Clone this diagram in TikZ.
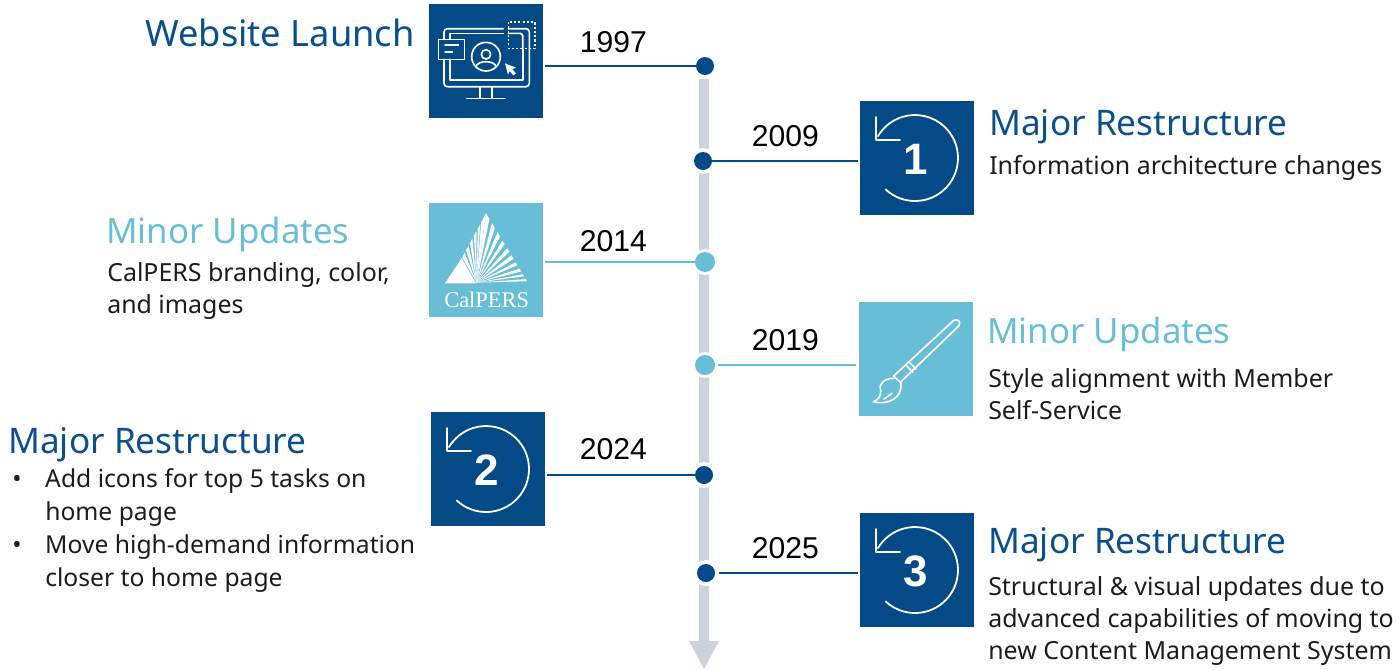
\documentclass[tikz,border=0pt]{standalone}
\usepackage{fontspec}
\setmainfont{Noto Sans}
\newfontfamily\yearfont{Liberation Sans}
\newfontfamily\logofont{Liberation Serif}
\usetikzlibrary{calc}
\definecolor{navy}{HTML}{034A87}
\definecolor{sky}{HTML}{69BED7}
\definecolor{axisgrey}{HTML}{CBD2DC}
\definecolor{titlenavy}{HTML}{0B4F8C}
\definecolor{bodyink}{HTML}{1C1C1C}
\newcommand{\historyglyph}[2]{%
  \begin{scope}[shift={(#1)}]
    \draw[iconline] (-2,0) ++(227:43) arc[start angle=227,end angle=509.4,radius=43];
    \draw[iconline] (-41,41) -- (-41,18) -- (-17,18);
    \node[digit] at (-1,-1) {#2};
  \end{scope}}
\tikzset{
  x=0.75pt,y=0.75pt,
  iconbox/.style={minimum width=85.5pt,minimum height=85.5pt,inner sep=0pt,draw=none},
  navybox/.style={iconbox,fill=navy},
  skybox/.style={iconbox,fill=sky},
  iconline/.style={draw=white,line width=1.35pt,line cap=round,line join=round},
  thinline/.style={iconline,line width=1.25pt},
  digit/.style={text=white,font=\yearfont\bfseries\fontsize{33}{33}\selectfont,inner sep=0pt},
  year/.style={anchor=base west,inner sep=0pt,text=black,font=\yearfont\fontsize{22.6}{27}\selectfont},
  headnavy/.style={anchor=base west,inner sep=0pt,text=titlenavy,font=\fontsize{26.4}{30}\selectfont},
  headsky/.style={anchor=base west,inner sep=0pt,text=sky,font=\fontsize{26.1}{30}\selectfont},
  bodytext/.style={anchor=north west,inner sep=0pt,align=left,text=bodyink,font=\fontsize{18.7}{24.2}\selectfont},
  stem/.style={line width=1.8pt},
  halo/.style={circle,fill=white,inner sep=0pt,minimum size=19.5pt},
  navydot/.style={circle,fill=navy,inner sep=0pt,minimum size=13.5pt},
  skydot/.style={circle,fill=sky,inner sep=0pt,minimum size=15pt},
}
\begin{document}
\begin{tikzpicture}
\useasboundingbox (0,0) rectangle (1400,-669);
% axis
\coordinate (axistop) at (704,-79);
\coordinate (axisneck) at (704,-641);
\coordinate (axistip) at (704,-669);
\fill[axisgrey] ($(axistop)+(-5,0)$) -- ($(axistop)+(5,0)$) -- ($(axisneck)+(5,0)$) -- ($(axisneck)+(15,0)$) -- (axistip) -- ($(axisneck)+(-15,0)$) -- ($(axisneck)+(-5,0)$) -- cycle;
% icon boxes
\node[navybox] (i1997) at (486,-61) {};
\node[navybox] (i2009) at (917,-158) {};
\node[skybox]  (i2014) at (486,-260) {};
\node[skybox]  (i2019) at (916,-359) {};
\node[navybox] (i2024) at (488,-469) {};
\node[navybox] (i2025) at (917,-570) {};
% dots with halos
\foreach \n/\x/\y in {h1997/705/66,h2009/703/161,h2014/705/262,h2019/705/365,h2024/704/475,h2025/706/573}
  \node[halo] (\n) at (\x,-\y) {};
\node[navydot] (d1997) at (h1997) {};
\node[navydot] (d2009) at (h2009) {};
\node[skydot]  (d2014) at (h2014) {};
\node[skydot]  (d2019) at (h2019) {};
\node[navydot] (d2024) at (h2024) {};
\node[navydot] (d2025) at (h2025) {};
% connectors
\draw[stem,navy,shorten >=1.5pt] (d1997.center) -- (d1997.center -| i1997.east);
\draw[stem,navy,shorten >=1pt] (d2009.east) -- (d2009.east -| i2009.west);
\draw[stem,sky,shorten >=1pt] (d2014.west) -- (d2014.west -| i2014.east);
\draw[stem,sky,shorten >=2pt,shorten <=2pt] (d2019.east) -- (d2019.east -| i2019.west);
\draw[stem,navy,shorten >=1.5pt] (d2024.west) -- (d2024.west -| i2024.east);
\draw[stem,navy,shorten >=1.5pt,shorten <=3pt] (d2025.east) -- (d2025.east -| i2025.west);
% years
\node[year] (y1997) at (579.5,-52) {1997};
\node[year] (y2009) at (751.5,-146) {2009};
\node[year] (y2014) at (579.5,-251) {2014};
\node[year] (y2019) at (751.5,-350) {2019};
\node[year] (y2024) at (579.5,-459) {2024};
\node[year] (y2025) at (751.5,-558) {2025};
% headings
\node[headnavy,font=\fontsize{27.2}{30}\selectfont] (t1997) at (145,-46) {Website Launch};
\node[headnavy] (t2009) at (989,-135) {Major Restructure};
\node[headsky]  (t2014) at (106,-243) {Minor Updates};
\node[headsky]  (t2019) at (987,-343) {Minor Updates};
\node[headnavy] (t2024) at (8,-453) {Major Restructure};
\node[headnavy] (t2025) at (988,-553) {Major Restructure};
% bodies
\node[bodytext] (b2009) at (989,-155) {Information architecture changes};
\node[bodytext] (b2014) at (107,-262) {CalPERS branding, color,\\and images};
\node[bodytext] (b2019) at (988,-368) {Style alignment with Member\\Self-Service};
\node[bodytext,font=\fontsize{18.5}{24.8}\selectfont] (b2024) at (8,-468) {\makebox[27.75pt][l]{\hspace{3pt}•}Add icons for top 5 tasks on\\\hspace*{27.75pt}home page\\\makebox[27.75pt][l]{\hspace{3pt}•}Move high-demand information\\\hspace*{27.75pt}closer to home page};
\node[bodytext] (b2025) at (988,-576) {Structural \& visual updates due to\\advanced capabilities of moving to\\new Content Management System};
% history icons
\historyglyph{i2009.center}{1}
\historyglyph{i2024.center}{2}
\historyglyph{i2025.center}{3}
% website icon
\begin{scope}[shift={(420,0)},x=0.25pt,y=-0.25pt]
  \draw[thinline] (90,178) -- (90,240) -- (308,240) -- (308,150);
  \draw[thinline] (90,118) -- (90,100) -- (250,100);
  \draw[thinline,rounded corners=2.5pt] (72,118) -- (72,86) -- (250,86);
  \draw[thinline,rounded corners=2.5pt] (72,178) -- (72,260) -- (328,260) -- (328,150);
  \draw[thinline,rounded corners=2.5pt] (265,86) -- (328,86) -- (328,150);
  \draw[thinline,rounded corners=2pt] (265,100) -- (308,100) -- (308,150);
  \draw[thinline,line cap=butt,dash pattern=on 1.6pt off 1.6pt] (265,66) rectangle (345,145);
  \draw[thinline] (180,260) -- (180,295) (215,260) -- (215,295) (140,295) -- (255,295);
  \draw[thinline] (55,118) rectangle (133,178);
  \draw[thinline] (75,135) -- (115,135) (75,155) -- (97,155);
  \draw[thinline] (198,170) circle[radius=43];
  \draw[thinline] (198,163) circle[radius=14];
  \draw[thinline] (168,200) .. controls (172,180) and (224,180) .. (228,200);
  \fill[white] (255,190) -- (288,203) -- (277,208) -- (288,220) -- (280,226) -- (269,213) -- (264,224) -- cycle;
\end{scope}
% logo
\begin{scope}[shift={(420,-195)},x=0.25pt,y=-0.25pt]
  \coordinate (fan) at (170,263);
  \coordinate (apex) at (198,55);
  \coordinate (lft) at (125,190);
  \coordinate (rgt) at (325,265);
  \fill[white] (75,265) -- (125,190) -- (168,265) -- cycle;
  \foreach \a/\b in {0.02/0.12,0.18/0.28,0.34/0.44,0.50/0.60,0.66/0.76,0.80/1.0}
    \fill[white] (fan) -- ($(lft)!\a!(apex)$) -- ($(lft)!\b!(apex)$) -- cycle;
  \fill[white] (fan) -- ($(apex)!0.0!(rgt)$) -- ($(apex)!0.08!(rgt)$) -- cycle;
  \foreach \a/\b in {0.14/0.21,0.27/0.33,0.39/0.44,0.50/0.55,0.60/0.65,0.70/0.74,0.79/0.83,0.87/0.90,0.94/0.97}
    \fill[white] (fan) -- ($(apex)!\a!(rgt)$) -- ($(apex)!\b!(rgt)$) -- cycle;
  \node[text=white,inner sep=0pt,font=\logofont\fontsize{16.8}{20}\selectfont] (logotext) at (200,313) {CalPERS};
\end{scope}
% brush
\begin{scope}[shift={(690,-295)},x=0.25pt,y=-0.25pt]
  \draw[thinline] (790,77) .. controls (800,68) and (815,80) .. (807,92) -- (631,262) -- (611,243) -- cycle;
  \draw[thinline] (648,210) -- (668,232) (658,202) -- (678,222);
  \draw[thinline] (611,250) .. controls (585,250) and (565,265) .. (572,285) .. controls (575,300) and (565,315) .. (550,320) .. controls (590,332) and (640,310) .. (632,264);
  \draw[thinline] (582,312) -- (606,295);
\end{scope}
\end{tikzpicture}
\end{document}
